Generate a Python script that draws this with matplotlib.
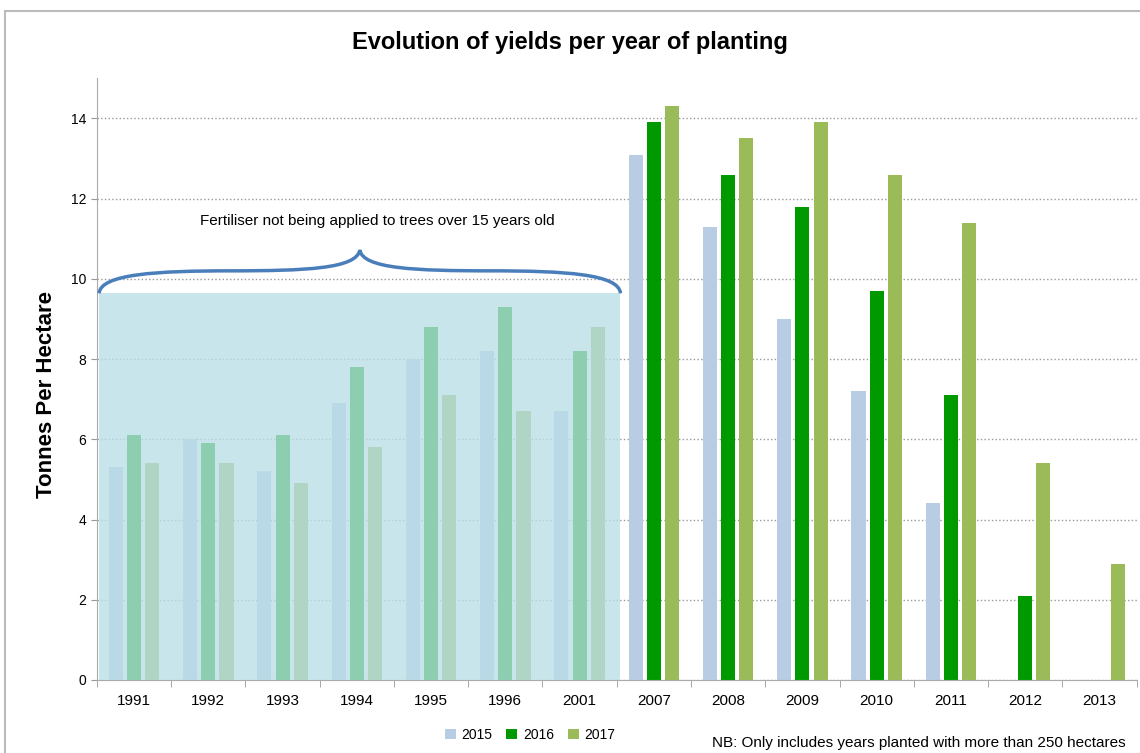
import numpy as np
import matplotlib
matplotlib.use('Agg')
import matplotlib.pyplot as plt
from matplotlib.patches import Rectangle, PathPatch
from matplotlib.path import Path

plt.rcParams['font.family'] = ['Liberation Sans', 'DejaVu Sans']

# Data
planting_years = ['1991', '1992', '1993', '1994', '1995', '1996', '2001',
                  '2007', '2008', '2009', '2010', '2011', '2012', '2013']
yield_2015 = [5.3, 6.0, 5.2, 6.9, 8.0, 8.2, 6.7, 13.1, 11.3, 9.0, 7.2, 4.4, 0, 0]
yield_2016 = [6.1, 5.9, 6.1, 7.8, 8.8, 9.3, 8.2, 13.9, 12.6, 11.8, 9.7, 7.1, 2.1, 0]
yield_2017 = [5.4, 5.4, 4.9, 5.8, 7.1, 6.7, 8.8, 14.3, 13.5, 13.9, 12.6, 11.4, 5.4, 2.9]

colors = ['#b8cce4', '#009900', '#9bbb59']

fig = plt.figure(figsize=(11.4, 7.53), dpi=100)
ax = fig.add_axes([0.085, 0.097, 0.912, 0.799])

x = np.arange(len(planting_years))
w = 0.19
step = 0.245
for i, (vals, c, lab) in enumerate(zip([yield_2015, yield_2016, yield_2017], colors, ['2015', '2016', '2017'])):
    ax.bar(x + (i - 1) * step, vals, width=w, color=c, label=lab, zorder=2)

# shaded region over older plantings
ax.add_patch(Rectangle((-0.47, 0), 7.02, 9.64, facecolor='#b8dee6', alpha=0.77,
                       edgecolor='none', zorder=3))

# curly brace
verts = [(-0.47, 9.64), (-0.45, 10.12), (0.3, 10.2), (1.3, 10.2),
         (2.3, 10.2), (3.0, 10.25), (3.04, 10.72),
         (3.08, 10.25), (3.8, 10.2), (4.8, 10.2),
         (5.8, 10.2), (6.53, 10.12), (6.55, 9.64)]
codes = [Path.MOVETO] + [Path.CURVE4] * 12
ax.add_patch(PathPatch(Path(verts, codes), facecolor='none', edgecolor='#4a7ebb',
                       lw=2.5, zorder=4, clip_on=False))
ax.text(3.27, 11.45, 'Fertiliser not being applied to trees over 15 years old',
        ha='center', va='center', fontsize=11)

ax.set_xlim(-0.5, len(planting_years) - 0.5)
ax.set_ylim(0, 15)
ax.set_yticks(range(0, 15, 2))
ax.set_xticks(x)
ax.set_xticklabels(planting_years, fontsize=11)
ax.set_xticks(np.arange(-0.5, len(planting_years), 1), minor=True)
ax.tick_params(axis='x', which='major', length=0, pad=10)
ax.tick_params(axis='x', which='minor', length=5, color='#999999')
ax.tick_params(axis='y', length=4, color='#999999', labelsize=10)
ax.yaxis.grid(True, linestyle=':', color='#999999', lw=1, zorder=0)
ax.set_axisbelow(True)
for s in ['top', 'right']:
    ax.spines[s].set_visible(False)
for s in ['left', 'bottom']:
    ax.spines[s].set_color('#aaaaaa')

ax.set_ylabel('Tonnes Per Hectare', fontsize=16, fontweight='bold')
ax.yaxis.set_label_coords(-0.038, 0.475)
fig.text(0.5, 0.944, 'Evolution of yields per year of planting', ha='center', va='center',
         fontsize=17, fontweight='bold')

fig.legend(loc='center', bbox_to_anchor=(0.465, 0.024), ncol=3, frameon=False,
           fontsize=10, handlelength=0.8, handleheight=0.8, columnspacing=1.0,
           handletextpad=0.4)
fig.text(0.987, 0.013, 'NB: Only includes years planted with more than 250 hectares',
         ha='right', va='center', fontsize=11)

# chart border
fig.add_artist(Rectangle((0.004, -0.01), 1.0, 0.995, transform=fig.transFigure,
                         facecolor='none', edgecolor='#bbbbbb', lw=1.5))

fig.savefig('out.png', dpi=100)
